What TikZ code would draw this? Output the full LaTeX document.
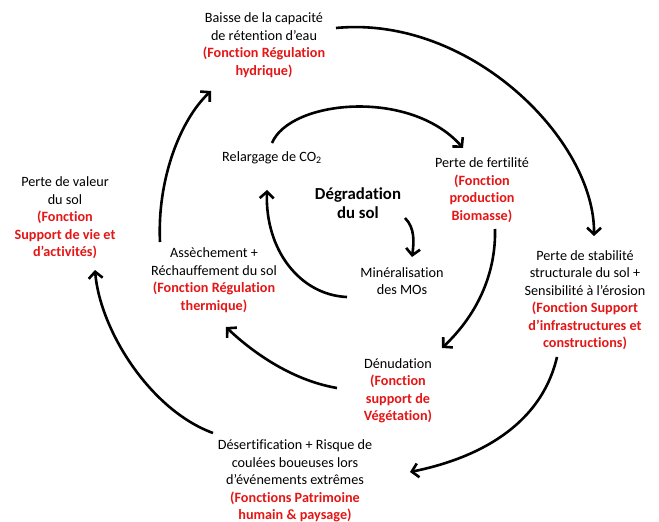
\documentclass[tikz,border=0pt]{standalone}
\usepackage{fontspec}
\setmainfont{Carlito}[Ligatures=NoCommon]
\usetikzlibrary{arrows.meta}
\definecolor{fred}{RGB}{228,22,22}
\tikzset{
  txt/.style={align=center,inner sep=0pt,font=\fontsize{14.2}{17.5}\selectfont},
  big/.style={align=center,inner sep=0pt,font=\fontsize{16.8}{19.5}\selectfont\bfseries},
  arr/.style={line width=2.6pt,-{Straight Barb[length=6.5pt,width=14pt,line width=2.6pt]}}
}
\newcommand{\fn}[1]{\textcolor{fred}{\bfseries #1}}
\begin{document}
\begin{tikzpicture}[x=1pt,y=-1pt]
\fill[white] (0,0) rectangle (659,522);
\useasboundingbox (0,0) rectangle (659,522);

\node[txt] (baisse) at (264,45) {Baisse de la capacité\\de rétention d’eau\\\fn{(Fonction Régulation}\\\fn{hydrique)}};
\node[txt] (valeur) at (65,218) {Perte de valeur\\du sol\\\fn{(Fonction}\\\fn{Support de vie et}\\\fn{d’activités)}};
\node[txt] (relarg) at (272,158) {Relargage de CO\textsubscript{2}};
\node[big] (degr) at (358,203) {Dégradation\\du sol};
\node[txt] (fert) at (482,190) {Perte de fertilité\\\fn{(Fonction}\\\fn{production}\\\fn{Biomasse)}};
\node[txt] (assech) at (214,280) {Assèchement +\\Réchauffement du sol\\\fn{(Fonction Régulation}\\\fn{thermique)}};
\node[txt] (miner) at (402,281) {Minéralisation\\des MOs};
\node[txt] (stab) at (585,300) {Perte de stabilité\\structurale du sol +\\Sensibilité à l’érosion\\\fn{(Fonction Support}\\\fn{d’infrastructures et}\\\fn{constructions)}};
\node[txt] (denud) at (398,391) {Dénudation\\\fn{(Fonction}\\\fn{support de}\\\fn{Végétation)}};
\node[txt] (desert) at (295,481) {Désertification + Risque de\\coulées boueuses lors\\d’événements extrêmes\\\fn{(Fonctions Patrimoine}\\\fn{humain \& paysage)}};

% endpoints
\coordinate (a1s) at (336,28);   \coordinate (a1e) at (594,236);
\coordinate (a2s) at (272,143);  \coordinate (a2e) at (463,148);
\coordinate (a3s) at (405,218);  \coordinate (a3e) at (412,257);
\coordinate (a4s) at (495,229);  \coordinate (a4e) at (442,348);
\coordinate (a5s) at (347,297);  \coordinate (a5e) at (267,190);
\coordinate (a6s) at (337,388);  \coordinate (a6e) at (226,327);
\coordinate (a7s) at (160,242);  \coordinate (a7e) at (211,91);
\coordinate (a8s) at (213,433);  \coordinate (a8e) at (95,270);
\coordinate (a9s) at (557,357);  \coordinate (a9e) at (410,472);

\draw[arr] (a1s) .. controls (470,15) and (595,140) .. (a1e);
\draw[arr] (a2s) .. controls (290,100) and (410,88) .. (a2e);
\draw[arr] (a3s) .. controls (415,228) and (414,242) .. (a3e);
\draw[arr] (a4s) .. controls (496,270) and (480,312) .. (a4e);
\draw[arr] (a5s) .. controls (300,295) and (265,250) .. (a5e);
\draw[arr] (a6s) .. controls (290,380) and (250,350) .. (a6e);
\draw[arr] (a7s) .. controls (157,180) and (180,120) .. (a7e);
\draw[arr] (a8s) .. controls (150,410) and (100,330) .. (a8e);
\draw[arr] (a9s) .. controls (540,430) and (470,460) .. (a9e);
\end{tikzpicture}
\end{document}
